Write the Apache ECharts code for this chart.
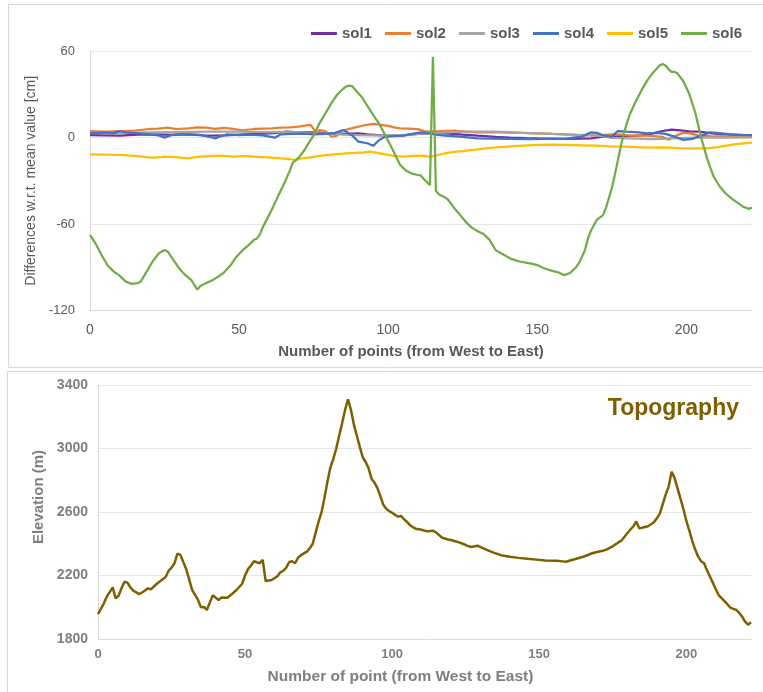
<!DOCTYPE html>
<html>
<head>
<meta charset="utf-8">
<script src="https://cdn.jsdelivr.net/npm/echarts@6/dist/echarts.min.js"></script>
<style>
html,body{margin:0;padding:0;background:#fff;}
#chart{width:763px;height:692px;}
</style>
</head>
<body>
<div id="chart"></div>
<script>
// ---- Data (point index, value) ----
const seriesNames = ['sol1','sol2','sol3','sol4','sol5','sol6'];
const seriesColors = ['#7030A0','#ED7D31','#A5A5A5','#4472C4','#FFC000','#70AD47'];

const sol1 = [[0,1.7],[5,1.5],[10,1.3],[16,2],[22,2.2],[28,1.8],[33,2.2],[38,1.5],[44,1.3],[50,2],[56,2.5],[62,3],[66,4],[70,3.5],[75,3.6],[80,3],[86,2.5],[90,2.8],[93,2.2],[98,1.5],[104,1.3],[110,2.5],[115,3],[119,2.9],[125,2],[130,1.3],[136,0.5],[141,0],[146,-0.4],[150,-0.6],[155,-0.8],[159,-1],[164,-0.8],[168,-0.6],[172,0.6],[178,1],[184,1.3],[188,2.5],[192,4.5],[195,5.5],[198,5],[201,4.3],[204,4],[208,3],[212,2.2],[217,1.8],[222,1.7]];

const sol2 = [[0,4.5],[5,4],[10,4.5],[15,4.8],[20,5.9],[23,6.2],[26,6.8],[29,5.8],[33,6.4],[36,7],[39,6.8],[42,6],[45,6.6],[48,6],[51,5],[55,5.9],[58,6.2],[61,6.4],[64,6.8],[67,7],[70,7.5],[72,8.2],[74,8.7],[76,3],[77,5.2],[79,4.5],[81,0.5],[83,1.5],[84,4.5],[86,5.5],[89,7],[92,8.5],[95,9.4],[97,9],[100,8],[102,7],[104,6.4],[107,6.2],[110,5.8],[112,4.5],[114,4],[118,4.5],[122,4.7],[126,4],[130,3.6],[135,3.8],[141,3.4],[146,3.2],[150,2.9],[155,2.5],[160,2.2],[165,1.7],[170,1.5],[175,2.2],[178,2],[181,1.3],[185,1.5],[188,1.2],[192,0.5],[194,-1.5],[196,0.8],[199,3.4],[201,2.9],[204,1.5],[208,1],[212,0.8],[216,0.6],[222,0.6]];

const sol3 = [[0,3],[10,3],[20,3.5],[30,3.8],[40,4],[50,4],[60,3.8],[70,3.5],[76,2.5],[80,2.8],[85,2],[90,1.7],[95,1.5],[100,1.3],[105,1.5],[110,2.5],[115,3],[120,3.5],[125,4],[130,4],[135,4],[140,3.8],[145,3.2],[150,2.9],[155,2.5],[160,2],[165,1.7],[170,1.5],[175,-0.3],[181,-0.6],[188,-1.2],[192,-1],[197,-0.5],[203,-0.1],[210,0],[216,-0.1],[222,0]];

const sol4 = [[0,2.9],[3,3.2],[5,3.6],[8,3],[10,4.5],[12,3.5],[16,2.9],[20,2.2],[23,1.5],[25,-0.1],[27,1.5],[29,2.2],[33,2.2],[37,1.8],[40,0.5],[42,-0.6],[44,1],[46,2.2],[50,1.7],[54,2],[58,1.5],[62,-0.1],[64,2.2],[68,2.5],[72,2.7],[75,2.2],[79,2.5],[82,3],[85,5.2],[86,4],[88,1.3],[90,-2.9],[93,-4],[95,-5.7],[97,-1.7],[99,0.6],[102,1],[105,1.3],[108,2.5],[111,3.6],[114,2.9],[116,2],[119,1.3],[124,0.6],[130,-0.6],[135,-0.8],[141,-1],[147,-1.2],[152,-1],[159,-1],[162,0],[165,0.6],[168,3.6],[170,3.2],[172,1.5],[175,0.6],[177,4.5],[180,4],[184,3.5],[187,2.9],[190,3.2],[193,2.5],[196,0.6],[199,-1.7],[202,-1],[204,0.6],[206,2],[208,3.6],[211,3],[215,2.2],[219,1.8],[222,1.7]];

const sol5 = [[0,-11.7],[5,-11.8],[10,-12.1],[15,-12.8],[20,-13.8],[22,-14],[25,-13.3],[28,-13.5],[31,-14.2],[33,-14.5],[36,-13.5],[40,-13],[44,-12.6],[48,-13.3],[52,-12.8],[55,-13.3],[60,-13.8],[64,-14.5],[67,-15],[69,-15.6],[71,-14.5],[74,-13.8],[77,-12.8],[80,-12.1],[83,-11.5],[86,-11],[89,-10.6],[92,-10.3],[94,-9.8],[96,-10.5],[99,-11.7],[102,-12.8],[105,-13.3],[108,-12.8],[111,-12.6],[114,-13.3],[116,-12.5],[119,-11],[122,-10],[125,-9.4],[130,-8.2],[135,-7.1],[140,-6.4],[145,-5.6],[150,-5.2],[155,-5],[160,-5.2],[165,-5.4],[170,-5.7],[175,-6.4],[180,-6.4],[185,-6.8],[188,-7.1],[192,-6.8],[196,-7.2],[199,-7.6],[203,-7.5],[207,-7.5],[210,-6.8],[213,-5.8],[216,-4.8],[219,-4],[222,-3.6]];

const sol6 = [[0,-67.5],[2,-74],[4,-82],[6,-89],[8,-93],[10,-96],[12,-100],[14,-101.5],[16,-101],[17,-100],[19,-93],[21,-86],[23,-80.5],[25,-78],[26,-79],[28,-85],[30,-91],[32,-95.5],[34,-99],[36,-105.5],[37,-103],[39,-101],[41,-99],[43,-96.5],[45,-93.5],[47,-89],[49,-83],[51,-78.5],[53,-75],[55,-71],[56,-70],[57,-67],[58,-62],[59,-58],[61,-50],[63,-41],[65,-32.5],[67,-23],[68,-17.5],[70,-14],[72,-8.5],[73,-5],[75,1.5],[77,10],[79,17],[81,24],[83,30],[85,34],[86,35.5],[87,36],[88,35.5],[89,33],[91,28.5],[93,22],[95,15.5],[97,9.5],[99,1.5],[100,-2.5],[102,-10.5],[104,-19],[106,-23],[108,-25],[110,-26],[111,-26.5],[112,-29],[114,-33],[115,56],[116,-37],[117,-39.5],[119,-41.5],[120,-43],[122,-48.5],[124,-53.5],[126,-58.5],[128,-62.5],[130,-65],[132,-67],[134,-71],[135,-74.5],[136,-78],[138,-80.5],[141,-84],[144,-86],[148,-87.5],[150,-88.5],[152,-90.5],[155,-92.5],[157,-93.5],[159,-95.5],[161,-94],[163,-90],[164,-87],[166,-78],[167,-70],[168,-64.5],[170,-57],[172,-54],[173,-49],[175,-35],[176,-26],[177,-16],[178,-6],[179,3],[181,16],[183,25],[185,33],[187,40],[189,45.5],[191,50],[192,51],[193,50],[194,47.5],[195,45.5],[196,45.5],[197,44.5],[199,39],[201,30],[203,17],[205,-0.5],[207,-15],[209,-26.5],[211,-33.5],[213,-38.5],[215,-42],[217,-45],[219,-48],[221,-49.5],[222,-48.5]];

const topography = [[0,1957],[2,2025],[3,2067],[5,2125],[6,2056],[7,2072],[8,2120],[9,2161],[10,2155],[11,2125],[12,2105],[14,2083],[15,2093],[17,2119],[18,2113],[20,2148],[23,2190],[24,2230],[25,2250],[26,2277],[27,2338],[28,2330],[30,2240],[32,2110],[34,2046],[35,2000],[36,2002],[37,1983],[39,2075],[41,2046],[42,2062],[44,2060],[45,2075],[47,2107],[49,2148],[50,2200],[51,2240],[52,2262],[53,2290],[55,2277],[56,2298],[57,2165],[59,2172],[61,2195],[62,2220],[63,2230],[64,2250],[65,2285],[66,2290],[67,2277],[68,2312],[69,2328],[71,2350],[72,2372],[73,2400],[74,2470],[75,2540],[76,2600],[77,2690],[78,2790],[79,2880],[80,2935],[81,3000],[82,3080],[83,3160],[84,3243],[85,3310],[86,3243],[87,3150],[88,3080],[89,3010],[90,2945],[91,2915],[92,2875],[93,2810],[94,2785],[95,2750],[96,2700],[97,2645],[98,2620],[99,2605],[100,2595],[101,2582],[102,2571],[103,2575],[104,2555],[105,2539],[106,2518],[107,2505],[108,2495],[110,2488],[112,2478],[114,2482],[115,2470],[117,2438],[119,2427],[120,2424],[122,2413],[124,2400],[126,2384],[127,2380],[129,2388],[131,2371],[134,2347],[137,2328],[140,2318],[143,2311],[146,2305],[149,2300],[152,2294],[156,2293],[158,2289],[159,2287],[162,2302],[165,2318],[168,2340],[170,2350],[172,2358],[173,2365],[175,2384],[177,2410],[178,2420],[180,2468],[182,2510],[183,2540],[184,2497],[186,2506],[187,2510],[189,2535],[190,2560],[191,2590],[192,2650],[193,2710],[194,2760],[195,2854],[196,2815],[197,2750],[198,2686],[199,2620],[200,2545],[201,2485],[202,2420],[203,2365],[204,2320],[205,2290],[206,2278],[207,2235],[208,2195],[209,2155],[210,2115],[211,2077],[213,2038],[215,1998],[216,1990],[217,1983],[218,1965],[219,1940],[220,1910],[221,1890],[222,1905]];

const diffTicks = {min:-120, max:60, interval:60};
const elevTicks = {min:1800, max:3400, interval:400};
const pointTicks = {min:0, max:222, interval:50};

// ---- Chart ----
const FONT = 'Liberation Sans, Arial, sans-serif';
const solData = [sol1, sol2, sol3, sol4, sol5, sol6];
const chart = echarts.init(document.getElementById('chart'), null, {renderer:'canvas'});

const series = seriesNames.map((n, k) => ({
  name: n, type: 'line', xAxisIndex: 0, yAxisIndex: 0,
  data: solData[k], symbol: 'none', smooth: false,
  lineStyle: {color: seriesColors[k], width: 2.25},
  itemStyle: {color: seriesColors[k]},
  z: 2 + k, animation: false
}));
series.push({
  name: 'Topography', type: 'line', xAxisIndex: 1, yAxisIndex: 1,
  data: topography, symbol: 'none',
  lineStyle: {color: '#7F6000', width: 2.5},
  itemStyle: {color: '#7F6000'}, animation: false
});

const plain = v => String(v);

const option = {
  animation: false,
  backgroundColor: '#ffffff',
  graphic: [
    {type:'rect', silent:true, z:-10, shape:{x:8.5, y:4.5, width:790, height:363}, style:{fill:'none', stroke:'#d9d9d9', lineWidth:1}},
    {type:'rect', silent:true, z:-10, shape:{x:7.5, y:371.5, width:790, height:340}, style:{fill:'none', stroke:'#d9d9d9', lineWidth:1}}
  ],
  title: {
    text: 'Topography', right: 19, top: 392,
    textStyle: {color:'#7F6000', fontSize:23, fontWeight:'bold', fontFamily:FONT}
  },
  legend: {
    data: seriesNames.map(n => ({name: n, icon: 'rect'})),
    right: 16, top: 21, itemWidth: 26, itemHeight: 3, itemGap: 13,
    textStyle: {color:'#595959', fontSize:15, fontWeight:'bold', fontFamily:FONT}
  },
  grid: [
    {left: 90, top: 51, right: 11, height: 259.5},
    {left: 98, top: 385, right: 12, height: 254}
  ],
  xAxis: [
    {
      type: 'value', gridIndex: 0, min: pointTicks.min, max: pointTicks.max, interval: pointTicks.interval,
      name: 'Number of points (from West to East)', nameLocation: 'middle', nameGap: 34,
      nameTextStyle: {color:'#595959', fontSize:15, fontWeight:'bold', fontFamily:FONT, padding:[0,20,0,0]},
      axisLine: {show:true, onZero:false, lineStyle:{color:'#d9d9d9', width:1}},
      axisTick: {show:false},
      axisLabel: {color:'#595959', fontSize:14, fontFamily:FONT, margin:13, showMaxLabel:false, formatter: plain},
      splitLine: {show:false}
    },
    {
      type: 'value', gridIndex: 1, min: pointTicks.min, max: pointTicks.max, interval: pointTicks.interval,
      name: 'Number of point (from West to East)', nameLocation: 'middle', nameGap: 30,
      nameTextStyle: {color:'#7f7f7f', fontSize:15.5, fontWeight:'bold', fontFamily:FONT, padding:[0,48,0,0]},
      axisLine: {show:true, onZero:false, lineStyle:{color:'#d9d9d9', width:1}},
      axisTick: {show:false},
      axisLabel: {color:'#7f7f7f', fontSize:13, fontWeight:'bold', fontFamily:FONT, margin:9, showMaxLabel:false, formatter: plain},
      splitLine: {show:false}
    }
  ],
  yAxis: [
    {
      type: 'value', gridIndex: 0, min: diffTicks.min, max: diffTicks.max, interval: diffTicks.interval,
      name: 'Differences w.r.t. mean value [cm]', nameLocation: 'middle', nameGap: 40, nameRotate: 90,
      nameTextStyle: {color:'#595959', fontSize:14, fontFamily:FONT},
      axisLine: {show:true, lineStyle:{color:'#d9d9d9', width:1}},
      axisTick: {show:false},
      axisLabel: {color:'#595959', fontSize:13, fontFamily:FONT, margin:15, formatter: plain},
      splitLine: {show:true, lineStyle:{color:'#e6e6e6', width:1}}
    },
    {
      type: 'value', gridIndex: 1, min: elevTicks.min, max: elevTicks.max, interval: elevTicks.interval,
      name: 'Elevation (m)', nameLocation: 'middle', nameGap: 52, nameRotate: 90,
      nameTextStyle: {color:'#7f7f7f', fontSize:15, fontWeight:'bold', fontFamily:FONT, padding:[0,0,0,30]},
      axisLine: {show:true, lineStyle:{color:'#d9d9d9', width:1}},
      axisTick: {show:false},
      axisLabel: {color:'#7f7f7f', fontSize:14, fontWeight:'bold', fontFamily:FONT, margin:10, formatter: plain},
      splitLine: {show:true, lineStyle:{color:'#e6e6e6', width:1}}
    }
  ],
  series: series
};
chart.setOption(option);
</script>
</body>
</html>
